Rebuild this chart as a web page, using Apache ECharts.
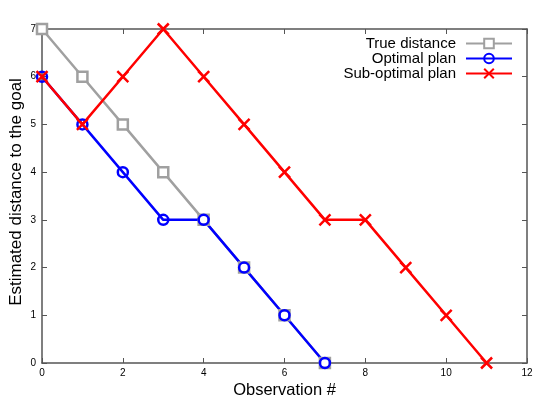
<!DOCTYPE html>
<html>
<head>
<meta charset="utf-8">
<script src="https://cdn.jsdelivr.net/npm/echarts@6/dist/echarts.min.js"></script>
<style>
html, body { margin: 0; padding: 0; background: #fff; }
#chart { width: 540px; height: 403px; }
</style>
</head>
<body>
<div id="chart"></div>
<script>
// observations (x) and estimated distances (y)
var trueX = [0, 1, 2, 3, 4, 5, 6, 7];
var trueY = [7, 6, 5, 4, 3, 2, 1, 0];
var optX = [0, 1, 2, 3, 4, 5, 6, 7];
var optY = [6, 5, 4, 3, 3, 2, 1, 0];
var subX = [0, 1, 2, 3, 4, 5, 6, 7, 8, 9, 10, 11];
var subY = [6, 5, 6, 7, 6, 5, 4, 3, 3, 2, 1, 0];

function pairs(xs, ys) {
    return xs.map(function (x, i) { return [x, ys[i]]; });
}

var font = 'Liberation Sans, Arial, sans-serif';
var axisCol = '#555';

var chart = echarts.init(document.getElementById('chart'));

var option = {
    animation: false,
    textStyle: { fontFamily: font },
    grid: { left: 42, right: 13, top: 29, bottom: 40, outerBoundsMode: 'none' },
    legend: {
        orient: 'vertical',
        right: 22,
        top: 31,
        align: 'right',
        itemWidth: 46,
        itemHeight: 12,
        itemGap: 0,
        textStyle: { fontSize: 15, lineHeight: 14, color: '#000', fontFamily: font, padding: [0, 5, 0, 0] },
        data: ['True distance', 'Optimal plan', 'Sub-optimal plan']
    },
    xAxis: [{
        type: 'value', min: 0, max: 12, interval: 2,
        name: 'Observation #', nameLocation: 'middle', nameGap: 19, nameMoveOverlap: false,
        nameTextStyle: { fontSize: 16.5, color: '#000' },
        axisLine: { onZero: false, lineStyle: { color: axisCol, width: 1.5 } },
        axisTick: { inside: true, length: 5, lineStyle: { color: axisCol } },
        axisLabel: { fontSize: 10, color: '#000', margin: 5 },
        splitLine: { show: false }
    }, {
        type: 'value', min: 0, max: 12, interval: 2, position: 'top',
        axisLine: { show: true, onZero: false, lineStyle: { color: axisCol, width: 1.5 } },
        axisTick: { inside: true, length: 5, lineStyle: { color: axisCol } },
        axisLabel: { show: false },
        splitLine: { show: false }
    }],
    yAxis: [{
        type: 'value', min: 0, max: 7, interval: 1,
        name: 'Estimated distance to the goal', nameLocation: 'middle', nameGap: 17, nameMoveOverlap: false,
        nameTextStyle: { fontSize: 17, color: '#000', padding: [0, 0, 0, 8] },
        axisLine: { show: true, onZero: false, lineStyle: { color: axisCol, width: 1.5 } },
        axisTick: { show: true, inside: true, length: 5, lineStyle: { color: axisCol } },
        axisLabel: { fontSize: 10, color: '#000', margin: 6 },
        splitLine: { show: false }
    }, {
        type: 'value', min: 0, max: 7, interval: 1, position: 'right',
        axisLine: { show: true, onZero: false, lineStyle: { color: axisCol, width: 1.5 } },
        axisTick: { show: true, inside: true, length: 5, lineStyle: { color: axisCol } },
        axisLabel: { show: false },
        splitLine: { show: false }
    }],
    series: [{
        name: 'True distance',
        type: 'line',
        data: pairs(trueX, trueY),
        symbol: 'rect',
        symbolSize: 10,
        color: '#a0a0a0',
        lineStyle: { width: 2.5, color: '#a0a0a0' },
        itemStyle: { color: '#fff', borderColor: '#a0a0a0', borderWidth: 2.5 }
    }, {
        name: 'Optimal plan',
        type: 'line',
        data: pairs(optX, optY),
        symbol: 'circle',
        symbolSize: 10,
        color: '#0000ff',
        lineStyle: { width: 2.5, color: '#0000ff' },
        itemStyle: { color: 'rgba(255,255,255,0)', borderColor: '#0000ff', borderWidth: 2.5 }
    }, {
        name: 'Sub-optimal plan',
        type: 'line',
        data: pairs(subX, subY),
        symbol: 'path://M0,0L10,10M10,0L0,10',
        symbolSize: 11,
        color: '#ff0000',
        lineStyle: { width: 2.5, color: '#ff0000' },
        itemStyle: { color: 'rgba(255,255,255,0)', borderColor: '#ff0000', borderWidth: 2.5 }
    }]
};

chart.setOption(option);
</script>
</body>
</html>
